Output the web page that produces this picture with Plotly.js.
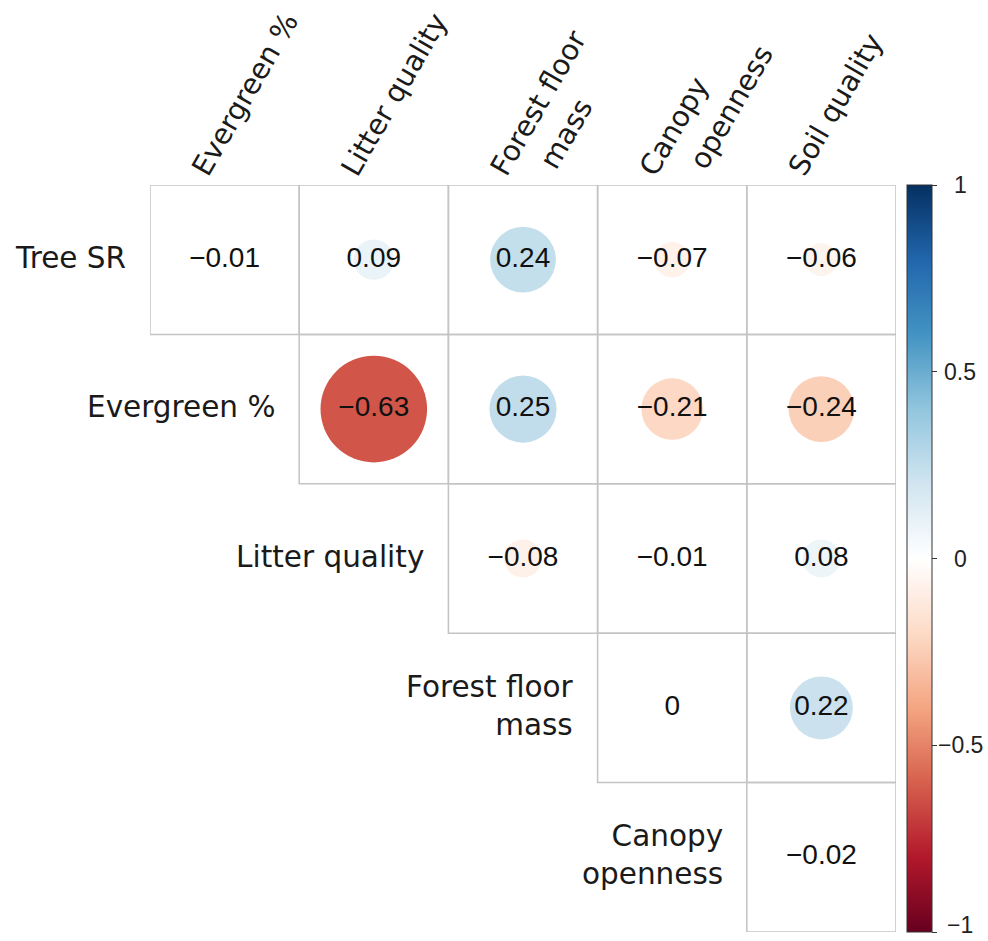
<!DOCTYPE html>
<html>
<head>
<meta charset="utf-8">
<script src="https://cdn.plot.ly/plotly-3.0.1.min.js"></script>
<style>html,body{margin:0;padding:0;background:#fff;}#chart{width:988px;height:941px;}</style>
</head>
<body>
<div id="chart"></div>
<script>
// ---- Data ----
const colLabels = ["Evergreen %", "Litter quality", "Forest floor\nmass", "Canopy\nopenness", "Soil quality"];
const rowLabels = ["Tree SR", "Evergreen %", "Litter quality", "Forest floor\nmass", "Canopy\nopenness"];
// upper-triangle correlations; row i starts at column i
const rTreeSR        = [-0.01, 0.09, 0.24, -0.07, -0.06];
const rEvergreen     = [-0.63, 0.25, -0.21, -0.24];
const rLitter        = [-0.08, -0.01, 0.08];
const rForestFloor   = [0, 0.22];
const rCanopy        = [-0.02];
const rowValues = [rTreeSR, rEvergreen, rLitter, rForestFloor, rCanopy];
const cbTickValues = [-1, -0.5, 0, 0.5, 1];
const cbTickLabels = ["\u22121", "\u22120.5", "0", "0.5", "1"];

// ---- Style / layout constants ----
const W = 988, H = 941;
const M = {l: 150, r: 92, t: 185, b: 9};
const plotW = W - M.l - M.r, plotH = H - M.t - M.b;
const nCol = colLabels.length;
const cellPx = plotW / nCol;
const labelFont = "DejaVu Sans, Verdana, sans-serif";
const numFont = "Liberation Sans, Arial, sans-serif";
const rowLabelSize = 29.5;
const colLabelSize = 28.5;
const colorscale = [
  [0.0, "#67001F"], [0.1, "#B2182B"], [0.2, "#D6604D"], [0.3, "#F4A582"], [0.4, "#FDDBC7"],
  [0.5, "#FFFFFF"], [0.6, "#D1E5F0"], [0.7, "#92C5DE"], [0.8, "#4393C3"], [0.9, "#2166AC"], [1.0, "#053061"]
];

function fmt(v) {
  if (v === 0) return "0";
  return (v < 0 ? "\u2212" : "") + Math.abs(v).toFixed(2);
}

const xs = [], ys = [], vals = [], texts = [], sizes = [];
const shapes = [];
rowValues.forEach((row, i) => {
  row.forEach((v, k) => {
    const j = i + k;
    xs.push(j); ys.push(i); vals.push(v); texts.push(fmt(v));
    sizes.push(0.9 * cellPx * Math.sqrt(Math.abs(v)));
    shapes.push({type: "rect", xref: "x", yref: "y", x0: j - 0.5, x1: j + 0.5, y0: i - 0.5, y1: i + 0.5,
      line: {color: "#C4C4C4", width: 1.5}, fillcolor: "rgba(0,0,0,0)", layer: "below"});
  });
});

const trace = {
  type: "scatter", mode: "markers+text", x: xs, y: ys, text: texts,
  textposition: "middle center",
  textfont: {family: numFont, size: 28, color: "#111"},
  hoverinfo: "skip",
  marker: {
    size: sizes, color: vals, colorscale: colorscale, cmin: -1, cmax: 1,
    line: {width: 0}, opacity: 1,
    showscale: true,
    colorbar: {
      x: 1 + (907 - (M.l + plotW)) / plotW, xanchor: "left", xpad: 0,
      y: 0.5, yanchor: "middle", len: 1, lenmode: "fraction", ypad: 0,
      thickness: 25, outlinewidth: 1, outlinecolor: "#333",
      tickmode: "array", tickvals: cbTickValues, showticklabels: false,
      ticks: "outside", ticklen: 5, tickcolor: "#333", tickwidth: 1
    }
  }
};

const annotations = [];
// row labels
rowLabels.forEach((lab, i) => {
  annotations.push({xref: "x", yref: "y", x: i - 0.5, y: i, xanchor: "right", yanchor: "middle",
    xshift: -22, yshift: 2, text: lab.split("\n").join("<br>"), align: "right", showarrow: false,
    font: {family: labelFont, size: rowLabelSize, color: "#1a1a1a"}});
});
// column labels (rotated)
colLabels.forEach((lab, j) => {
  lab.split("\n").forEach((line, k) => {
    annotations.push({xref: "x", yref: "paper", x: j, y: 1, xanchor: "left", yanchor: "bottom",
      xshift: -42 + k * 50, yshift: 1 + k * 7, textangle: -60, text: line, showarrow: false,
      font: {family: labelFont, size: colLabelSize, color: "#1a1a1a"}});
  });
});
// colorbar tick labels (centered beside the bar)
cbTickValues.forEach((v, i) => {
  const atBottom = (v === cbTickValues[0]);
  annotations.push({xref: "paper", yref: "paper", x: (960 - M.l) / plotW, y: (v + 1) / 2,
    xanchor: "center", yanchor: atBottom ? "bottom" : "middle", yshift: atBottom ? -(M.b - 1) : 0,
    text: cbTickLabels[i], showarrow: false,
    font: {family: numFont, size: 23, color: "#222"}});
});

const layout = {
  width: W, height: H, margin: M,
  paper_bgcolor: "#fff", plot_bgcolor: "#fff",
  showlegend: false,
  xaxis: {range: [-0.5, nCol - 0.5], visible: false, fixedrange: true},
  yaxis: {range: [rowLabels.length - 0.5, -0.5], visible: false, fixedrange: true},
  shapes: shapes, annotations: annotations
};

Plotly.newPlot("chart", [trace], layout, {displayModeBar: false, staticPlot: true});
</script>
</body>
</html>
